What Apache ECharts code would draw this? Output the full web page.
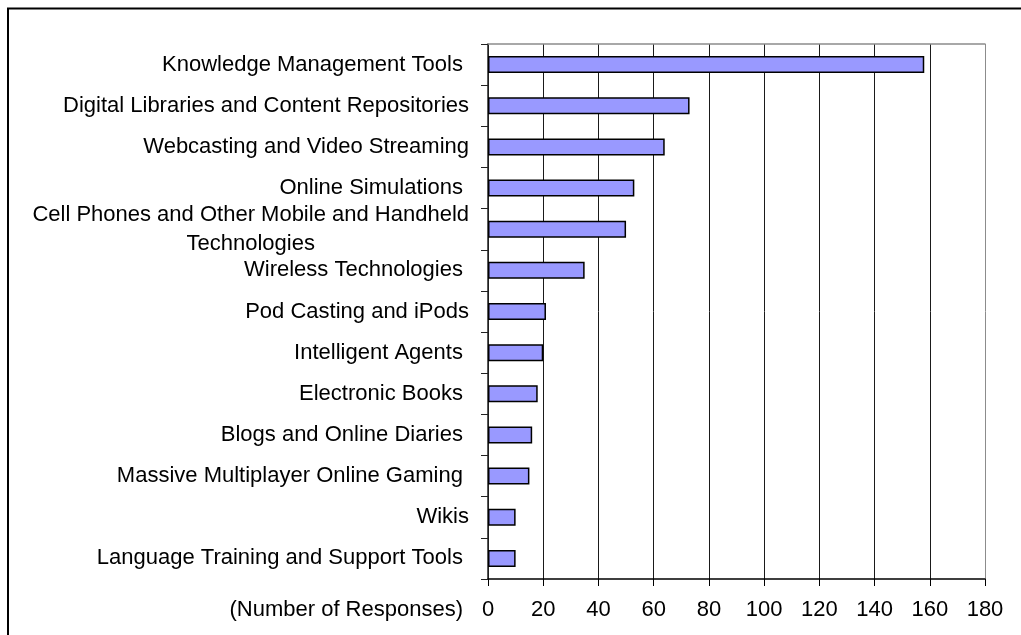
<!DOCTYPE html>
<html>
<head>
<meta charset="utf-8">
<script src="https://cdn.jsdelivr.net/npm/echarts@6/dist/echarts.min.js"></script>
<style>
    html, body { margin: 0; padding: 0; background: #fff; }
    #chart { width: 1021px; height: 635px; }
</style>
</head>
<body>
<div id="chart"></div>
<script>
    // technologies, top to bottom as in the picture (trailing spaces kept as in the source labels)
    var categories = [
        'Knowledge Management Tools ',
        'Digital Libraries and Content Repositories',
        'Webcasting and Video Streaming',
        'Online Simulations ',
        'Cell Phones and Other Mobile and Handheld\nTechnologies',
        'Wireless Technologies ',
        'Pod Casting and iPods',
        'Intelligent Agents ',
        'Electronic Books ',
        'Blogs and Online Diaries ',
        'Massive Multiplayer Online Gaming ',
        'Wikis',
        'Language Training and Support Tools '
    ];
    var responses = [158, 73, 64, 53, 50, 35, 21, 20, 18, 16, 15, 10, 10];
    var axisMin = 0, axisMax = 180, axisStep = 20;
    var axisTitle = '(Number of Responses)';

    var FONT = '"Liberation Sans", Arial, sans-serif';
    var FS = 22;

    var myChart = echarts.init(document.getElementById('chart'));

    // gridlines: dark inside, grey on the far right edge
    var gridColors = [];
    for (var v = axisMin; v <= axisMax; v += axisStep) {
        gridColors.push(v === axisMax ? '#8c8c8c' : '#1a1a1a');
    }

    var option = {
        backgroundColor: '#fff',
        animation: false,
        grid: {
            left: 488,
            right: 36,
            top: 44,
            bottom: 56,
            containLabel: false,
            outerBoundsMode: 'none'
        },
        xAxis: [{
            type: 'value',
            position: 'bottom',
            min: axisMin,
            max: axisMax,
            interval: axisStep,
            axisLine: { show: true, lineStyle: { color: '#000', width: 1.5 } },
            axisTick: { show: true, length: 7, inside: false, lineStyle: { color: '#000' } },
            axisLabel: { color: '#000', fontSize: FS, fontFamily: FONT, margin: 20 },
            splitLine: { show: true, lineStyle: { color: gridColors, width: 1 } }
        }, {
            // only draws the grey top border of the plot
            type: 'value',
            position: 'top',
            min: axisMin,
            max: axisMax,
            interval: axisStep,
            axisLine: { show: true, lineStyle: { color: '#8c8c8c', width: 1.5 } },
            axisTick: { show: false },
            axisLabel: { show: false },
            splitLine: { show: false }
        }],
        yAxis: {
            type: 'category',
            data: categories,
            inverse: true,
            axisLine: { show: true, lineStyle: { color: '#222', width: 1.5 } },
            axisTick: { show: true, length: 7, inside: false, lineStyle: { color: '#222' } },
            axisLabel: {
                color: '#000',
                fontSize: FS,
                fontFamily: FONT,
                margin: 19,
                lineHeight: 29,
                formatter: function (val) {
                    if (val.indexOf('\n') < 0) return val;
                    return val.split('\n').map(function (s) { return '{c|' + s + '}'; }).join('\n');
                },
                rich: {
                    c: { align: 'center', color: '#000', fontSize: FS, fontFamily: FONT, lineHeight: 29 }
                }
            },
            splitLine: { show: false }
        },
        series: [{
            type: 'bar',
            data: responses,
            barWidth: 17,
            itemStyle: {
                color: '#9999ff',
                borderColor: '#000',
                borderWidth: 1.5
            }
        }],
        graphic: [{
            type: 'rect',
            shape: { x: 8, y: 8.5, width: 1100, height: 700 },
            style: { fill: null, stroke: '#000', lineWidth: 2 },
            silent: true
        }, {
            type: 'text',
            x: 463,
            y: 610,
            style: {
                text: axisTitle,
                fill: '#000',
                fontSize: FS,
                fontFamily: FONT,
                align: 'right',
                verticalAlign: 'middle'
            }
        }]
    };

    myChart.setOption(option, true);
</script>
</body>
</html>
